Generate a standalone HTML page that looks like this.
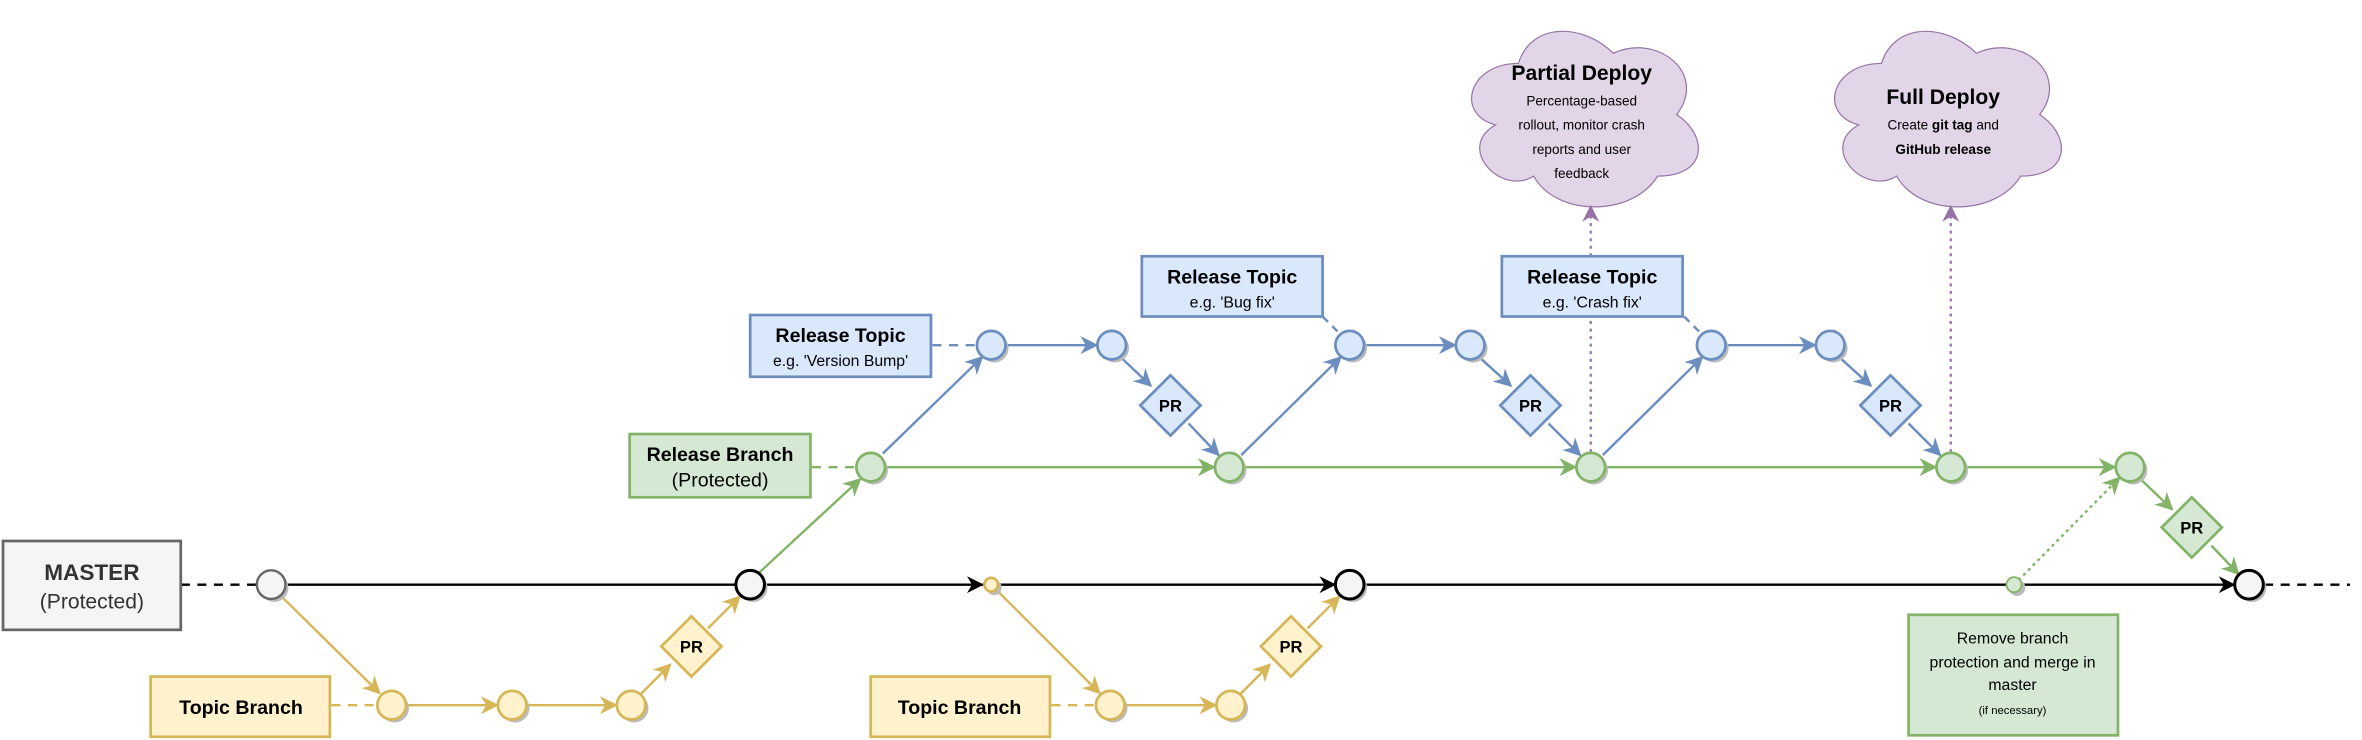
<!DOCTYPE html>
<html><head><meta charset="utf-8"><style>
html,body{margin:0;padding:0;background:#fff;}
svg{display:block;}
text{font-family:"Liberation Sans",Arial,sans-serif;}
</style></head><body>
<svg width="2362" height="740" viewBox="0 0 1568 491" xmlns="http://www.w3.org/2000/svg">
<defs>
<marker id="mk" viewBox="0 0 10 10" refX="9" refY="5" markerWidth="7" markerHeight="7" orient="auto"><path d="M0,0 L10,5 L0,10 L3,5 Z" fill="#000"/></marker>
<marker id="my" viewBox="0 0 10 10" refX="9" refY="5" markerWidth="7.5" markerHeight="7.5" orient="auto"><path d="M0,0 L10,5 L0,10 L3,5 Z" fill="#d6b656"/></marker>
<marker id="mg" viewBox="0 0 10 10" refX="9" refY="5" markerWidth="7.5" markerHeight="7.5" orient="auto"><path d="M0,0 L10,5 L0,10 L3,5 Z" fill="#82b366"/></marker>
<marker id="mb" viewBox="0 0 10 10" refX="9" refY="5" markerWidth="7.5" markerHeight="7.5" orient="auto"><path d="M0,0 L10,5 L0,10 L3,5 Z" fill="#6c8ebf"/></marker>
<marker id="mp" viewBox="0 0 10 10" refX="9" refY="5" markerWidth="7.5" markerHeight="7.5" orient="auto"><path d="M0,0 L10,5 L0,10 L3,5 Z" fill="#9673a6"/></marker>
</defs>

<!-- clouds -->
<g fill="#e1d5e7" stroke="#9673a6" stroke-width="1.2">
<path transform="translate(966,8) scale(168,136)" vector-effect="non-scaling-stroke" d="M0.25,0.25 C0.05,0.25 0,0.5 0.16,0.55 C0,0.66 0.18,0.9 0.31,0.8 C0.4,1 0.7,1 0.8,0.8 C1,0.8 1,0.6 0.875,0.5 C1,0.3 0.8,0.1 0.625,0.2 C0.5,0.05 0.3,0.05 0.25,0.25 Z"/>
<path transform="translate(1207,8) scale(168,136)" vector-effect="non-scaling-stroke" d="M0.25,0.25 C0.05,0.25 0,0.5 0.16,0.55 C0,0.66 0.18,0.9 0.31,0.8 C0.4,1 0.7,1 0.8,0.8 C1,0.8 1,0.6 0.875,0.5 C1,0.3 0.8,0.1 0.625,0.2 C0.5,0.05 0.3,0.05 0.25,0.25 Z"/>
</g>
<g text-anchor="middle" fill="#000">
<text x="1050" y="53" font-size="14" font-weight="bold">Partial Deploy</text>
<text x="1050" y="70" font-size="9">Percentage-based</text>
<text x="1050" y="86" font-size="9">rollout, monitor crash</text>
<text x="1050" y="102" font-size="9">reports and user</text>
<text x="1050" y="118" font-size="9">feedback</text>
<text x="1290" y="69" font-size="14" font-weight="bold">Full Deploy</text>
<text x="1290" y="86" font-size="9">Create <tspan font-weight="bold">git tag</tspan> and</text>
<text x="1290" y="102" font-size="9" font-weight="bold">GitHub release</text>
</g>

<!-- purple dotted -->
<g stroke="#9673a6" stroke-width="1.5" stroke-dasharray="2,3" fill="none">
<line x1="1056" y1="300" x2="1056" y2="137" marker-end="url(#mp)"/>
<line x1="1295" y1="300" x2="1295" y2="137" marker-end="url(#mp)"/>
</g>

<!-- master line -->
<line x1="120" y1="388" x2="171" y2="388" stroke="#000" stroke-width="1.6" stroke-dasharray="6,5"/>
<line x1="189" y1="388" x2="488" y2="388" stroke="#000" stroke-width="1.6"/>
<line x1="508" y1="388" x2="652" y2="388" stroke="#000" stroke-width="1.6" marker-end="url(#mk)"/>
<line x1="652" y1="388" x2="886" y2="388" stroke="#000" stroke-width="1.6" marker-end="url(#mk)"/>
<line x1="906" y1="388" x2="1483" y2="388" stroke="#000" stroke-width="1.6" marker-end="url(#mk)"/>
<line x1="1503" y1="388" x2="1560" y2="388" stroke="#000" stroke-width="1.6" stroke-dasharray="6,5"/>

<!-- yellow branches -->
<g stroke="#d6b656" stroke-width="1.6" fill="none">
<line x1="220" y1="468" x2="250" y2="468" stroke-dasharray="6,5"/>
<line x1="186" y1="395" x2="252" y2="460" marker-end="url(#my)"/>
<line x1="270" y1="468" x2="330" y2="468" marker-end="url(#my)"/>
<line x1="350" y1="468" x2="409" y2="468" marker-end="url(#my)"/>
<line x1="425" y1="461" x2="445" y2="441" marker-end="url(#my)"/>
<line x1="470" y1="417" x2="491" y2="396" marker-end="url(#my)"/>
<line x1="698" y1="468" x2="727" y2="468" stroke-dasharray="6,5"/>
<line x1="662" y1="392" x2="730" y2="460" marker-end="url(#my)"/>
<line x1="747" y1="468" x2="807" y2="468" marker-end="url(#my)"/>
<line x1="823" y1="461" x2="843" y2="441" marker-end="url(#my)"/>
<line x1="868" y1="417" x2="889" y2="396" marker-end="url(#my)"/>
</g>

<!-- green -->
<g stroke="#82b366" stroke-width="1.6" fill="none">
<line x1="539" y1="310" x2="568" y2="310" stroke-dasharray="6,5"/>
<line x1="504" y1="380" x2="571" y2="318" marker-end="url(#mg)"/>
<line x1="588" y1="310" x2="806" y2="310" marker-end="url(#mg)"/>
<line x1="826" y1="310" x2="1046" y2="310" marker-end="url(#mg)"/>
<line x1="1066" y1="310" x2="1285" y2="310" marker-end="url(#mg)"/>
<line x1="1305" y1="310" x2="1404" y2="310" marker-end="url(#mg)"/>
<line x1="1420" y1="317" x2="1442" y2="338" marker-end="url(#mg)"/>
<line x1="1468" y1="362" x2="1486" y2="381" marker-end="url(#mg)"/>
<line x1="1340" y1="385" x2="1407" y2="317" stroke-dasharray="2,2.5" marker-end="url(#mg)"/>
</g>

<!-- blue -->
<g stroke="#6c8ebf" stroke-width="1.6" fill="none">
<line x1="619" y1="229" x2="648" y2="229" stroke-dasharray="6,5"/>
<line x1="586" y1="301" x2="652" y2="237" marker-end="url(#mb)"/>
<line x1="668" y1="229" x2="728" y2="229" marker-end="url(#mb)"/>
<line x1="744" y1="237" x2="764" y2="256" marker-end="url(#mb)"/>
<line x1="789" y1="281" x2="809" y2="302" marker-end="url(#mb)"/>
<line x1="878" y1="210" x2="889" y2="221" stroke-dasharray="5,4"/>
<line x1="824" y1="302" x2="890" y2="237" marker-end="url(#mb)"/>
<line x1="906" y1="229" x2="966" y2="229" marker-end="url(#mb)"/>
<line x1="982" y1="237" x2="1003" y2="256" marker-end="url(#mb)"/>
<line x1="1028" y1="281" x2="1049" y2="302" marker-end="url(#mb)"/>
<line x1="1118" y1="210" x2="1129" y2="221" stroke-dasharray="5,4"/>
<line x1="1064" y1="302" x2="1130" y2="237" marker-end="url(#mb)"/>
<line x1="1146" y1="229" x2="1205" y2="229" marker-end="url(#mb)"/>
<line x1="1221" y1="237" x2="1242" y2="256" marker-end="url(#mb)"/>
<line x1="1267" y1="281" x2="1288" y2="302" marker-end="url(#mb)"/>
</g>

<!-- circles with shadow -->
<g>
<g fill="#bbb">
<circle cx="182" cy="390" r="9.5"/><circle cx="500" cy="390" r="9.5"/><circle cx="898" cy="390" r="9.5"/><circle cx="1495" cy="390" r="9.5"/>
<circle cx="262" cy="470" r="9.5"/><circle cx="342" cy="470" r="9.5"/><circle cx="421" cy="470" r="9.5"/><circle cx="739" cy="470" r="9.5"/><circle cx="819" cy="470" r="9.5"/>
<circle cx="580" cy="312" r="9.5"/><circle cx="818" cy="312" r="9.5"/><circle cx="1058" cy="312" r="9.5"/><circle cx="1297" cy="312" r="9.5"/><circle cx="1416" cy="312" r="9.5"/>
<circle cx="660" cy="231" r="9.5"/><circle cx="740" cy="231" r="9.5"/><circle cx="898" cy="231" r="9.5"/><circle cx="978" cy="231" r="9.5"/><circle cx="1138" cy="231" r="9.5"/><circle cx="1217" cy="231" r="9.5"/>
<circle cx="660" cy="390" r="5"/><circle cx="1339" cy="390" r="5.5"/>
</g>
<circle cx="180" cy="388" r="9.5" fill="#f5f5f5" stroke="#666" stroke-width="1.6"/>
<g fill="#f5f5f5" stroke="#000" stroke-width="2">
<circle cx="498" cy="388" r="9.5"/><circle cx="896" cy="388" r="9.5"/><circle cx="1493" cy="388" r="9.5"/>
</g>
<g fill="#fff2cc" stroke="#d6b656" stroke-width="1.8">
<circle cx="260" cy="468" r="9.5"/><circle cx="340" cy="468" r="9.5"/><circle cx="419" cy="468" r="9.5"/><circle cx="737" cy="468" r="9.5"/><circle cx="817" cy="468" r="9.5"/>
<circle cx="658" cy="388" r="4.5"/>
</g>
<g fill="#d5e8d4" stroke="#82b366" stroke-width="1.8">
<circle cx="578" cy="310" r="9.5"/><circle cx="816" cy="310" r="9.5"/><circle cx="1056" cy="310" r="9.5"/><circle cx="1295" cy="310" r="9.5"/><circle cx="1414" cy="310" r="9.5"/>
<circle cx="1337" cy="388" r="5" stroke-width="1.2"/>
</g>
<g fill="#dae8fc" stroke="#6c8ebf" stroke-width="1.8">
<circle cx="658" cy="229" r="9.5"/><circle cx="738" cy="229" r="9.5"/><circle cx="896" cy="229" r="9.5"/><circle cx="976" cy="229" r="9.5"/><circle cx="1136" cy="229" r="9.5"/><circle cx="1215" cy="229" r="9.5"/>
</g>
</g>

<!-- PR diamonds -->
<g stroke-width="1.8">
<path d="M459,409 L479,429 L459,449 L439,429 Z" fill="#fff2cc" stroke="#d6b656"/>
<path d="M857,409 L877,429 L857,449 L837,429 Z" fill="#fff2cc" stroke="#d6b656"/>
<path d="M777,249 L797,269 L777,289 L757,269 Z" fill="#dae8fc" stroke="#6c8ebf"/>
<path d="M1016,249 L1036,269 L1016,289 L996,269 Z" fill="#dae8fc" stroke="#6c8ebf"/>
<path d="M1255,249 L1275,269 L1255,289 L1235,269 Z" fill="#dae8fc" stroke="#6c8ebf"/>
<path d="M1455,330 L1475,350 L1455,370 L1435,350 Z" fill="#d5e8d4" stroke="#82b366"/>
</g>
<g font-size="11" font-weight="bold" text-anchor="middle" fill="#000">
<text x="459" y="433">PR</text><text x="857" y="433">PR</text>
<text x="777" y="273">PR</text><text x="1016" y="273">PR</text><text x="1255" y="273">PR</text>
<text x="1455" y="354">PR</text>
</g>

<!-- boxes -->
<rect x="2" y="359" width="118" height="59" fill="#f5f5f5" stroke="#666" stroke-width="1.8"/>
<text x="61" y="385" font-size="15" font-weight="bold" text-anchor="middle" fill="#333">MASTER</text>
<text x="61" y="404" font-size="14" text-anchor="middle" fill="#333">(Protected)</text>

<rect x="100" y="449" width="119" height="40" fill="#fff2cc" stroke="#d6b656" stroke-width="1.8"/>
<text x="160" y="474" font-size="13" font-weight="bold" text-anchor="middle">Topic Branch</text>
<rect x="578" y="449" width="119" height="40" fill="#fff2cc" stroke="#d6b656" stroke-width="1.8"/>
<text x="637" y="474" font-size="13" font-weight="bold" text-anchor="middle">Topic Branch</text>

<rect x="418" y="288" width="120" height="42" fill="#d5e8d4" stroke="#82b366" stroke-width="1.8"/>
<text x="478" y="306" font-size="13" font-weight="bold" text-anchor="middle">Release Branch</text>
<text x="478" y="323" font-size="13" text-anchor="middle">(Protected)</text>

<g fill="#dae8fc" stroke="#6c8ebf" stroke-width="1.8">
<rect x="498" y="209" width="120" height="41"/>
<rect x="758" y="170" width="120" height="40"/>
<rect x="997" y="170" width="120" height="40"/>
</g>
<g text-anchor="middle">
<text x="558" y="227" font-size="13" font-weight="bold">Release Topic</text>
<text x="558" y="243" font-size="10.5">e.g. 'Version Bump'</text>
<text x="818" y="188" font-size="13" font-weight="bold">Release Topic</text>
<text x="818" y="204" font-size="10.5">e.g. 'Bug fix'</text>
<text x="1057" y="188" font-size="13" font-weight="bold">Release Topic</text>
<text x="1057" y="204" font-size="10.5">e.g. 'Crash fix'</text>
</g>

<rect x="1267" y="408" width="139" height="80" fill="#d5e8d4" stroke="#82b366" stroke-width="1.8"/>
<g text-anchor="middle" font-size="10.5">
<text x="1336" y="427">Remove branch</text>
<text x="1336" y="443">protection and merge in</text>
<text x="1336" y="458">master</text>
<text x="1336" y="474" font-size="7.5">(if necessary)</text>
</g>
</svg>
</body></html>
